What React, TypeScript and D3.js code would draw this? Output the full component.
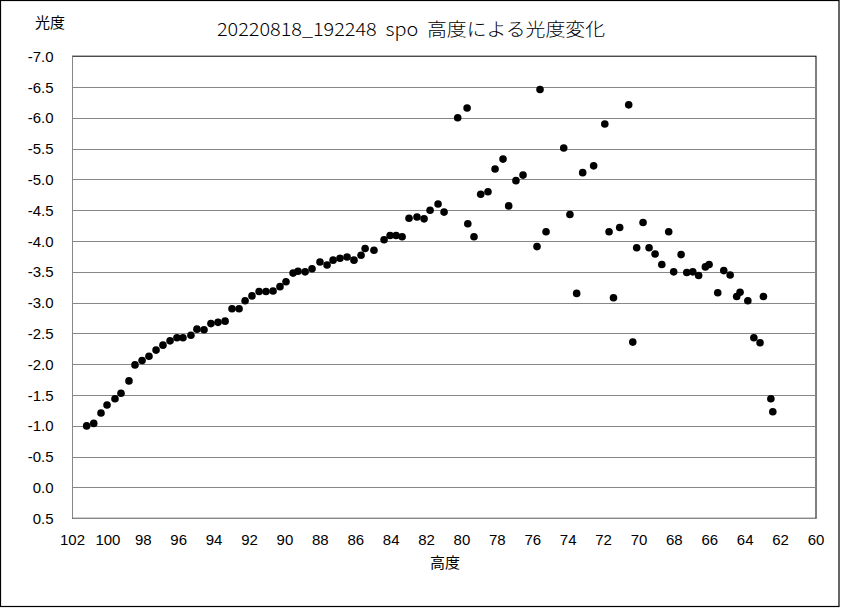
import React from "react";
import * as d3 from "d3";

// 高度 (altitude) values
const altitude: number[] = [
  101.2, 100.8, 100.39, 100.05, 99.6, 99.26, 98.81, 98.47, 98.07, 97.68,
  97.28, 96.89, 96.49, 96.1, 95.76, 95.31, 94.97, 94.57, 94.18, 93.78,
  93.38, 92.99, 92.59, 92.25, 91.86, 91.46, 91.07, 90.67, 90.28, 89.94,
  89.54, 89.26, 88.86, 88.47, 88.02, 87.62, 87.28, 86.89, 86.49, 86.1,
  85.7, 85.47, 84.97, 84.4, 84.06, 83.72, 83.38, 82.99, 82.54, 82.14,
  81.8, 81.35, 81.01, 80.24, 79.71, 79.67, 79.32, 78.94, 78.53, 78.13,
  77.68, 77.36, 76.95, 76.55, 75.76, 75.59, 75.25, 74.25, 73.9, 73.52,
  73.18, 72.56, 71.93, 71.69, 71.44, 71.09, 70.58, 70.35, 70.13, 69.77,
  69.43, 69.09, 68.71, 68.32, 68.04, 67.62, 67.3, 66.96, 66.63, 66.25,
  66.04, 65.55, 65.21, 64.85, 64.48, 64.29, 63.85, 63.51, 63.16, 62.97,
  62.55, 62.44,
];

// 光度 (magnitude) values
const magnitude: number[] = [
  -1.0, -1.04, -1.21, -1.34, -1.44, -1.53, -1.73, -1.99, -2.06, -2.13,
  -2.23, -2.31, -2.38, -2.43, -2.43, -2.47, -2.57, -2.56, -2.66, -2.68,
  -2.7, -2.9, -2.9, -3.03, -3.11, -3.18, -3.18, -3.19, -3.26, -3.34,
  -3.48, -3.51, -3.5, -3.55, -3.66, -3.61, -3.69, -3.72, -3.74, -3.69,
  -3.77, -3.88, -3.85, -4.02, -4.09, -4.09, -4.07, -4.37, -4.39, -4.36,
  -4.5, -4.6, -4.47, -6.0, -6.16, -4.28, -4.07, -4.76, -4.8, -5.17,
  -5.33, -4.57, -4.98, -5.07, -3.91, -6.46, -4.15, -5.51, -4.43, -3.15,
  -5.11, -5.22, -5.9, -4.15, -3.08, -4.22, -6.21, -2.36, -3.89, -4.3,
  -3.89, -3.79, -3.62, -4.15, -3.5, -3.78, -3.49, -3.5, -3.44, -3.58,
  -3.62, -3.16, -3.52, -3.45, -3.1, -3.17, -3.03, -2.43, -2.35, -3.1,
  -1.44, -1.23,
];

const xTicks: number[] = [102, 100, 98, 96, 94, 92, 90, 88, 86, 84, 82, 80, 78, 76, 74, 72, 70, 68, 66, 64, 62, 60];
const yTicks: number[] = [-7.0, -6.5, -6.0, -5.5, -5.0, -4.5, -4.0, -3.5, -3.0, -2.5, -2.0, -1.5, -1.0, -0.5, 0.0, 0.5];

const TITLE = "20220818_192248  spo  高度による光度変化";
const X_LABEL = "高度";
const Y_LABEL = "光度";

const W = 841;
const H = 614;
const plot = { left: 72.5, right: 816, top: 56.2, bottom: 518.3 };

export default function App() {
  const x = d3.scaleLinear().domain([102, 60]).range([plot.left, plot.right]);
  const y = d3.scaleLinear().domain([-7, 0.5]).range([plot.top, plot.bottom]);
  const fmt = (v: number) => d3.format(".1f")(v).replace("\u2212", "-");
  const numFont = "'Liberation Sans', Arial, sans-serif";
  const cjkFont = "'Noto Sans CJK JP', sans-serif";
  const grid = "#878787";

  return (
    <svg
      width={W}
      height={H}
      style={{ position: "absolute", left: 0, top: 0, background: "#fff" }}
    >
      <rect x={0} y={0} width={W} height={H} fill="#fff" />
      <rect x={0.5} y={0.5} width={838.5} height={606} fill="#fff" stroke="#000" strokeWidth={1.2} />
      <text
        x={411}
        y={36}
        textAnchor="middle"
        fontFamily={cjkFont}
        fontSize={18}
        fontWeight={300}
        fill="#000"
        style={{ whiteSpace: "pre" }}
        textLength={388}
        lengthAdjust="spacingAndGlyphs"
      >
        {TITLE}
      </text>
      <text x={35} y={28} fontFamily={cjkFont} fontSize={15} fill="#000">
        {Y_LABEL}
      </text>
      {/* plot border */}
      <rect
        x={plot.left}
        y={plot.top}
        width={plot.right - plot.left}
        height={plot.bottom - plot.top}
        fill="none"
        stroke="#000"
        strokeWidth={1}
      />
      {yTicks.map((t) =>
        t === -7 ? null : (
          <line
            key={"g" + t}
            x1={plot.left}
            x2={plot.right}
            y1={Math.round(y(t)) + 0.5}
            y2={Math.round(y(t)) + 0.5}
            stroke={grid}
            strokeWidth={1}
          />
        )
      )}
      <line
        x1={plot.left}
        x2={plot.left}
        y1={plot.top}
        y2={plot.bottom}
        stroke={grid}
        strokeWidth={1}
      />
      {yTicks.map((t) => (
        <text
          key={"yl" + t}
          x={53.5}
          y={y(t) + 5.5}
          textAnchor="end"
          fontFamily={numFont}
          fontSize={15}
          fill="#000"
        >
          {fmt(t)}
        </text>
      ))}
      {xTicks.map((t) => (
        <text
          key={"xl" + t}
          x={x(t)}
          y={545}
          textAnchor="middle"
          fontFamily={numFont}
          fontSize={15}
          fill="#000"
        >
          {t}
        </text>
      ))}
      <text x={445} y={568} textAnchor="middle" fontFamily={cjkFont} fontSize={15} fill="#000">
        {X_LABEL}
      </text>
      {altitude.map((a, i) => (
        <circle key={"p" + i} cx={x(a)} cy={y(magnitude[i])} r={3.8} fill="#000" />
      ))}
    </svg>
  );
}
